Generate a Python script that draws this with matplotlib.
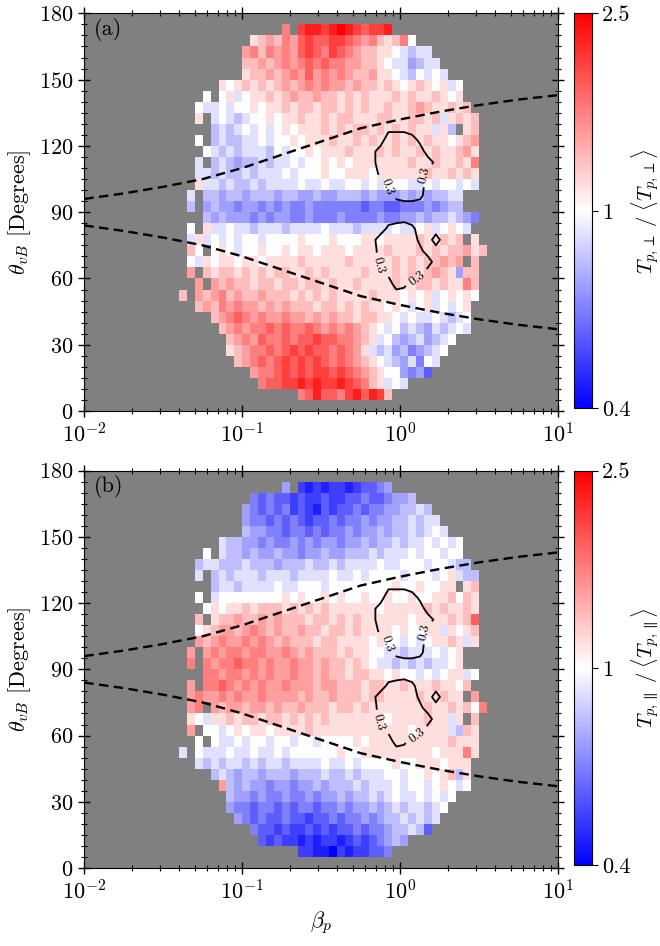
import numpy as np
import matplotlib
matplotlib.use("Agg")
import matplotlib.pyplot as plt
from matplotlib.colors import LogNorm
from matplotlib.ticker import MultipleLocator, NullLocator

plt.rcParams["font.family"] = "serif"
plt.rcParams["font.serif"] = ["cmr10"]
plt.rcParams["mathtext.fontset"] = "cm"
plt.rcParams["axes.formatter.use_mathtext"] = True

# bin edges: log10(beta_p) in 0.05 steps, theta_vB in 5 degree steps
logbeta_edges = np.linspace(-1.4, 0.6, 41)
theta_edges = np.arange(5, 180, 5)

# cell codes: A = 0.4 ... I = 1 ... Q = 2.5 (log spaced), '-' = no data
# rows run from theta 170-175 (top) down to 5-10 (bottom)
KEY = "ABCDEFGHIJKLMNOPQ"

tperp_rows = [
    "-------------M-OPPOPQPONOOP-------------",
    "---------JKLKMLNONNOONMLMKJKMI----------",
    "--------LMKMLMLNONMONMLKKJJIHGHH--------",
    "--------KKLKLMLMNMNMMLLKKJIHHFGHH-------",
    "--------JKKLKLMLNLMLMLKKLJJIHGIHIH------",
    "-----JIJKJKJKLKLMLMLLKLKKJKJIJKJIJHI----",
    "---I-IJHIJJKJKLKKLKKJKJKJJJKJKJJKJIJ----",
    "--IHHIHIIJIJJKJKKJKKJKJKJJKJJKLKJJKJK---",
    "--J-HIHGHIIJIJJKJJKJKKJJJKKJJKKJKHJKJK--",
    "----GHGHIHIHIJIJJJKJKJKKJKJKJKJJHJG-JK--",
    "--I-GHGGHHIHIIJIJJJKJJKJKJJKJKJKJJIJKL--",
    "---IHGHGHHHGIHIIJIJJJKJJJKJKJJKJKJJKLJ--",
    "--H-GHGFGGHGHHIHIIJIJIJJJJJJJKJJKJJKJM--",
    "--HHGHGGHGHHHIHIIIJIIJJJIJJJJJJKJJKJKJ--",
    "--JHHGHGGHGHHHHIHHIHHIIHIHIIIHHIHIIHIH--",
    "-H-GGFGGFGGGFGGFFGFFGGGFGFFFGFGFGGHH----",
    "-G-FGFFEFFEFEFEEFEEEEEEDEEDDEEEFEFGG----",
    "---GFGFFFEFEFFEEFEEEFEEEEFEEFFGFGGHGFE--",
    "-I-JHHIHHGHHHGHHHHIHHHGHHHHIHHIJHIJIH---",
    "-HJHIHIHIIHIIIIJIIIJIIIJJIJJJJKJJKJK-J--",
    "-KI-IJIHIIJIIJIJJIJJJIJJJJKJJJKJKJKKLJK-",
    "-IHJIJJIJJIJJJJKJJJJJKJJJJJKJKJKKLKL-K--",
    "-L-KJKKJKJKJKKJJKJKJJJJKJJJKJKJKLKJFKK--",
    "--L-LKLKKJKKJKKJKKJKJJKJJJJKJJKKJKJJMK--",
    "K-LKLMKLKKLKKKJKJKJKJJJJKJJJIJIJHIJIJI--",
    "--KLKMLMLLKLKLKKKJKKJKJKJJIJIHIJHIHIJ---",
    "----KLMNMLMLLMLLKLKLKKJKKJJIHIHHIHGHI---",
    "-----KLMLMMNMNMMNMLMLMLKJIHIGHGFHGHIH---",
    "------KLMLNMMNMNNONNMMLKJHIGFGHFGHI-----",
    "------JKLMMNMNONONNMNMLJHGHFGEFGHI------",
    "-------KLMNMNONONONMNMLKJIHGFHEIH-------",
    "---------LMMNONONOONONMLKJIIFEFD--------",
    "----------MNNOOPOPOOPONMKJHIH-----------",
    "---------------MNPNNMOPNPOK-------------",
]

tpar_rows = [
    "-------------F-CBCBCCBCDDEF-------------",
    "---------EDEDDCDCCDCCDDEDDEFFG----------",
    "--------FEDEDECDCBDCDDEDEEFFGGHG--------",
    "--------FEEDEDEDCDDEDEEFEFFGGHGHH-------",
    "--------GFFEEDEEDEDEEFEFFGFGGHGHIH------",
    "-----HGGFFEFEEFEFEFFEFFGFGGHGHHIHIHI----",
    "---I-HGGFGFFGFFEFFGFFGGGHGHHHIHIIHII----",
    "--GHHGGGHGGGFGGGHGGHGHHHHIHHIIIHIIHGG---",
    "--H-GHGHHHGHHHGHHHHIHHIHIIIIHIIIHIJHGG--",
    "----GHHGHHHHIHHIIIHIIIIIIIIJIIJIIJJ-JK--",
    "--I-HIIIIIIIIJIJIIJIJIIJIIJIIJIIJJKIKJ--",
    "---IJIJJKJKKKJKJKJKJJJJJJIJJJJJKJKJJKJ--",
    "--K-JKKLKKLKLKKKJKKJKJKJJJJJJIJJJJKJKN--",
    "--IJKLLKLMLKLKKLKKJKKJKJJJJIJIIJJHJIJK--",
    "--LKLMLLMLMLKLKKKJKKJJJJIJIIHIHIJJKJHJ--",
    "-L-LMLMMLMMLLMLKLKKKJKJJIIHHGHHHIHIJ----",
    "-M-MLMMNMMLMLLMLLKLKKJKJIHHGHGHGHHIJ----",
    "---MMLMMLMLMLLMLLKLKKJKKJJIJIIHIHIJJHI--",
    "-L-MMNMLMLMLLMLLLKLLKKKJKKJJKJJJKJJIK---",
    "-LMLLMLMLLMLLLLKLKKLKKKJKKJJJJKJJKJJ-L--",
    "-LM-LKLLKLLKLKKLKKKJKKJKJJJJJJJKJJKJKIM-",
    "-JIHJJKJKKJKKJKJKJKJJJJJJJIJJJJKJJHJ-K--",
    "-L-IIHIJIJJIJJJJKJJJJJJJJJJJJIJJJJHGKJ--",
    "--I-IHHIHIIHIIHIIHIIIIJIJJJJJJJJJJKJJJ--",
    "H-IHHHIHHIHHIHIIIIIIJIIJJJJJJJJJIJJJMJ--",
    "--HGHGHHGHGHHGHHHHIHHIHIIIIJIIJJJIJJJ---",
    "----GHGFGGFGGGFGGGHGGHGHHHIIHIIJIJKGJ---",
    "-----LGFGFFEFFEFFGFGGGHGHHHIHIIHIJIHI---",
    "------GFFEFEEFEEFEFFGFGGHGHIHHIHIHI-----",
    "------FEEDEEDEDEEDEEFEFFGFGHGHHGHI------",
    "-------FEDEDDEDDCDDEDEEFEFGGHGHGH-------",
    "---------EDDCDCCDCDCDDEDEEFGGHGD--------",
    "----------DCDCCBCBCCBCDCDEFGF-----------",
    "---------------CCBBACBCCDDE-------------",
]

# occurrence fraction (tenths) for the 0.3 contour, log10(beta_p) centres
# -0.225..0.325, theta centres 137.5 (top) down to 47.5
occ_rows = [
    "111111111111",
    "111111111111",
    "111222111111",
    "111666521111",
    "125565551111",
    "125555565211",
    "114555561111",
    "111455551111",
    "111145541111",
    "111111111111",
    "111111111111",
    "111456411111",
    "125555521511",
    "115555641111",
    "115555555111",
    "111465551111",
    "111154111111",
    "111111111111",
    "111111111111",
]
occ_logbeta = np.linspace(-0.225, 0.325, 12)
occ_theta = np.linspace(137.5, 47.5, 19)
occ_level = 0.3
occ_label_pos = [(0.74, 101), (1.40, 107), (0.73, 66), (1.29, 59)]

# dashed reference curves
dash_logbeta = [-2.0, -1.75, -1.5, -1.25, -1.0, -0.75, -0.5, -0.25, 0.0, 0.25, 0.5, 0.75, 1.0]
dash_theta_hi = [96, 98.5, 101.5, 105, 110, 116, 122, 128, 132, 135.5, 138.5, 141, 143]
dash_theta_lo = [84, 81.5, 78.5, 75, 70, 64, 58, 52, 48, 44.5, 41.5, 39, 37]

cbar_ticks = [0.4, 1, 2.5]
cbar_ticklabels = ["0.4", "1", "2.5"]


def decode(rows):
    grid = np.full((len(rows), len(rows[0])), np.nan)
    for i, row in enumerate(rows[::-1]):
        assert len(row) == len(rows[0]), row
        for j, ch in enumerate(row):
            if ch != "-":
                grid[i, j] = 2.5 ** ((KEY.index(ch) - 8) / 8)
    return grid


panels = [
    ("(a)", decode(tperp_rows), r"$T_{p,\perp}\;/\;\langle T_{p,\perp}\rangle$"),
    ("(b)", decode(tpar_rows), r"$T_{p,\parallel}\;/\;\langle T_{p,\parallel}\rangle$"),
]
occ = np.array([[int(c) / 10 for c in r] for r in occ_rows])

fig = plt.figure(figsize=(6.6, 9.46), dpi=100)
ax_rects = [[0.1277, 0.5655, 0.7182, 0.4204], [0.1277, 0.0825, 0.7182, 0.4199]]
cax_rects = [[0.8702, 0.5684, 0.0264, 0.4176], [0.8702, 0.0851, 0.0264, 0.4173]]
norm = LogNorm(vmin=0.4, vmax=2.5)

for k, (tag, grid, clabel) in enumerate(panels):
    ax = fig.add_axes(ax_rects[k])
    ax.set_facecolor("#808080")
    mesh = ax.pcolormesh(10 ** logbeta_edges, theta_edges, grid, cmap="bwr", norm=norm)

    ax.plot(10 ** np.array(dash_logbeta), dash_theta_hi, color="k", lw=1.7, dashes=(4, 2.3))
    ax.plot(10 ** np.array(dash_logbeta), dash_theta_lo, color="k", lw=1.7, dashes=(4, 2.3))

    cs = ax.contour(10 ** occ_logbeta, occ_theta, occ, levels=[occ_level],
                    colors="k", linewidths=1.3)
    ax.clabel(cs, fmt="%.1f", fontsize=9.5, inline=True, manual=occ_label_pos)

    ax.set_xscale("log")
    ax.set_xlim(1e-2, 1e1)
    ax.set_ylim(0, 180)
    ax.yaxis.set_major_locator(MultipleLocator(30))
    ax.yaxis.set_minor_locator(MultipleLocator(5))
    ax.tick_params(which="both", direction="inout", top=True, right=True, labelsize=16)
    ax.tick_params(which="major", length=9, width=1)
    ax.tick_params(which="minor", length=5, width=0.8)
    ax.set_ylabel(r"$\theta_{vB}$ [Degrees]", fontsize=16)
    ax.text(0.02, 0.988, tag, transform=ax.transAxes, ha="left", va="top", fontsize=16)
    if k == 1:
        ax.set_xlabel(r"$\beta_p$", fontsize=16)

    cax = fig.add_axes(cax_rects[k])
    cb = fig.colorbar(mesh, cax=cax)
    cb.set_ticks(cbar_ticks)
    cb.set_ticklabels(cbar_ticklabels)
    cb.ax.yaxis.set_minor_locator(NullLocator())
    cb.ax.tick_params(labelsize=16, length=4)
    cb.set_label(clabel, fontsize=15, labelpad=-1)

fig.savefig("out.png", dpi=100)
